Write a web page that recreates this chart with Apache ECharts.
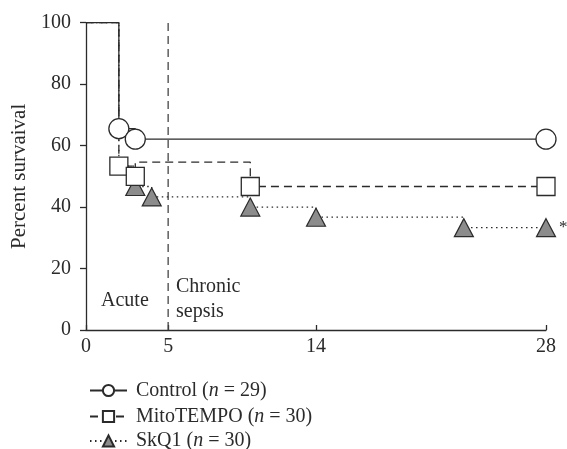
<!DOCTYPE html>
<html><head><meta charset="utf-8">
<script src="https://cdn.jsdelivr.net/npm/echarts@6/dist/echarts.min.js"></script>
<style>html,body{margin:0;padding:0;background:#fff}#c{width:567px;height:449px}</style>
</head><body><div id="c"></div>
<script>
const groupNames = ['Control', 'MitoTEMPO', 'SkQ1'];
const groupN = [29, 30, 30];
const xTicks = [0, 5, 14, 28];
const controlDays = [0, 2, 3, 28];
const controlSurvival = [100, 65.5, 62.1, 62.1];
const controlMarked = [false, true, true, true];
const mitoDays = [0, 2, 3, 3, 10, 28];
const mitoSurvival = [100, 53.3, 50.0, 54.6, 46.7, 46.7];
const mitoMarked = [false, true, true, false, true, true];
const skq1Days = [0, 2, 3, 4, 10, 14, 23, 28];
const skq1Survival = [100, 53.3, 46.7, 43.3, 40.0, 36.7, 33.3, 33.3];
const skq1Marked = [false, false, true, true, true, true, true, true];
const phaseBoundaryDay = 5;
const phaseLabels = ['Acute', 'Chronic', 'sepsis'];
const significanceMark = '*';

const FONT = 'Liberation Serif';
const INK = '#2b2b2b';
const FS = 20;

function buildData(days, vals, marked, lastLabel) {
  return days.map((d, i) => {
    const item = { value: [d, vals[i]] };
    if (!marked[i]) item.symbol = 'none';
    if (lastLabel && i === days.length - 1) {
      item.label = { show: true, formatter: lastLabel, position: 'right', distance: 3,
        color: INK, fontFamily: FONT, fontSize: 17 };
    }
    return item;
  });
}

const chart = echarts.init(document.getElementById('c'), null, { renderer: 'canvas' });
const legendLabel = {};
groupNames.forEach((g, i) => { legendLabel[g] = '{a|' + g + ' (}{i|n}{a| = ' + groupN[i] + ')}'; });
const legendRowTops = [375.5, 401.5, 426];
const legends = groupNames.map((g, i) => ({
  data: [g], orient: 'vertical', left: 84, top: legendRowTops[i],
  itemWidth: 37, itemHeight: 14,
  formatter: n => legendLabel[n],
  textStyle: { color: INK, fontFamily: FONT, fontSize: FS, padding: [0, 0, 0, 4],
    rich: { a: { fontFamily: FONT, fontSize: FS, color: INK }, i: { fontFamily: FONT, fontSize: FS, fontStyle: 'italic', color: INK } } }
}));

chart.setOption({
  animation: false,
  backgroundColor: '#fff',
  grid: { left: 86, right: 21, top: 22.7, bottom: 119, containLabel: false },
  xAxis: {
    type: 'value', min: 0, max: 28,
    axisLine: { show: true, lineStyle: { color: INK, width: 1.3 } },
    axisTick: { show: true, inside: true, length: 5, customValues: xTicks, lineStyle: { color: INK, width: 1.3 } },
    axisLabel: { customValues: xTicks, margin: 7, color: INK, fontFamily: FONT, fontSize: FS },
    splitLine: { show: false }
  },
  yAxis: {
    type: 'value', min: 0, max: 100, interval: 20,
    name: 'Percent survaival', nameLocation: 'middle', nameGap: 55,
    nameTextStyle: { color: INK, fontFamily: FONT, fontSize: 21 },
    axisLine: { show: true, lineStyle: { color: INK, width: 1.3 } },
    axisTick: { show: true, length: 6, lineStyle: { color: INK, width: 1.3 } },
    axisLabel: { margin: 15, color: INK, fontFamily: FONT, fontSize: FS },
    splitLine: { show: false }
  },
  legend: legends,
  series: [
    {
      type: 'line', name: '_boundary', silent: true, symbol: 'none', z: 1,
      data: [[phaseBoundaryDay, 0], [phaseBoundaryDay, 100]],
      lineStyle: { color: '#444', width: 1.3, type: [8, 5] }
    },
    {
      type: 'line', name: 'SkQ1', step: 'end', z: 2,
      data: buildData(skq1Days, skq1Survival, skq1Marked, significanceMark),
      symbol: 'triangle', symbolSize: [19, 18], showSymbol: true,
      lineStyle: { color: INK, width: 1.3, type: [1.5, 3.5] },
      itemStyle: { color: '#8c8c8c', borderColor: INK, borderWidth: 1.2 }
    },
    {
      type: 'line', name: 'MitoTEMPO', step: 'end', z: 3,
      data: buildData(mitoDays, mitoSurvival, mitoMarked),
      symbol: 'rect', symbolSize: 18, showSymbol: true,
      lineStyle: { color: INK, width: 1.3, type: [8, 5] },
      itemStyle: { color: '#fff', borderColor: INK, borderWidth: 1.3 }
    },
    {
      type: 'line', name: 'Control', step: 'end', z: 4,
      data: buildData(controlDays, controlSurvival, controlMarked),
      symbol: 'circle', symbolSize: 20, showSymbol: true,
      lineStyle: { color: INK, width: 1.3 },
      itemStyle: { color: '#fff', borderColor: INK, borderWidth: 1.3 }
    }
  ],
  graphic: [
    { type: 'text', left: 101, top: 291, style: { text: phaseLabels[0], fill: INK, font: FS + 'px "Liberation Serif"' } },
    { type: 'text', left: 176, top: 277, style: { text: phaseLabels[1], fill: INK, font: FS + 'px "Liberation Serif"' } },
    { type: 'text', left: 176, top: 302, style: { text: phaseLabels[2], fill: INK, font: FS + 'px "Liberation Serif"' } }
  ]
});
</script></body></html>
